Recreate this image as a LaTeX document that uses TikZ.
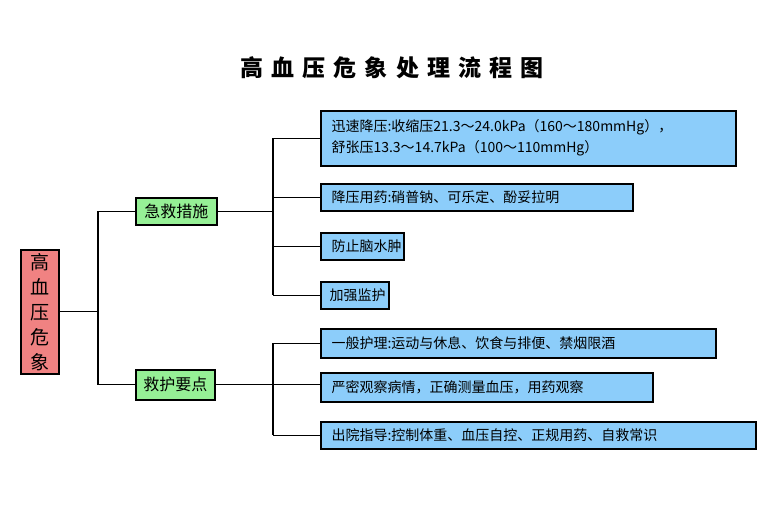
\documentclass[tikz,border=0pt]{standalone}
\usepackage{fontspec}
\setmainfont{Noto Sans CJK SC}
\definecolor{leafc}{RGB}{140,205,250}
\definecolor{brc}{RGB}{150,240,150}
\definecolor{rootc}{RGB}{240,130,130}
\begin{document}
\begin{tikzpicture}[x=1pt,y=-1pt,
  box/.style={draw=black,line width=1.5pt,inner sep=0pt,anchor=north west},
  leaf/.style={box,fill=leafc},
  txt/.style={font=\fontsize{14}{21}\selectfont,anchor=west,align=left},
  ln/.style={line width=1.3pt}]
\useasboundingbox (0,0) rectangle (777,517);
\node[font=\fontsize{23}{24}\selectfont\bfseries\addfontfeature{LetterSpace=35}] (title) at (392,68) {高血压危象处理流程图};
% root
\node[box,fill=rootc,minimum width=38pt,minimum height=124pt] (root) at (20,249) {};
\node[font=\fontsize{19}{25}\selectfont,align=center] at (root.center) {高\\血\\压\\危\\象};
% branches
\node[box,fill=brc,minimum width=81pt,minimum height=27pt] (b1) at (135,197) {};
\node[font=\fontsize{16}{18}\selectfont] at (b1.center) {急救措施};
\node[box,fill=brc,minimum width=79pt,minimum height=30pt] (b2) at (135,369) {};
\node[font=\fontsize{16}{18}\selectfont] at (b2.center) {救护要点};
% leaves
\node[leaf,minimum width=415pt,minimum height=55pt] (l1) at (320,110) {};
\node[txt] at ([xshift=8pt]l1.west) {迅速降压:收缩压21.3～24.0kPa（160～180mmHg），\\舒张压13.3～14.7kPa（100～110mmHg）};
\node[leaf,minimum width=312pt,minimum height=27pt] (l2) at (320,183) {};
\node[txt] at ([xshift=8pt]l2.west) {降压用药:硝普钠、可乐定、酚妥拉明};
\node[leaf,minimum width=83pt,minimum height=27pt] (l3) at (320,232) {};
\node[txt] at ([xshift=8pt]l3.west) {防止脑水肿};
\node[leaf,minimum width=68pt,minimum height=27pt] (l4) at (320,281) {};
\node[txt] at ([xshift=6pt]l4.west) {加强监护};
\node[leaf,minimum width=395pt,minimum height=29pt] (l5) at (320,328) {};
\node[txt] at ([xshift=8pt]l5.west) {一般护理:运动与休息、饮食与排便、禁烟限酒};
\node[leaf,minimum width=332pt,minimum height=29pt] (l6) at (320,372) {};
\node[txt] at ([xshift=8pt]l6.west) {严密观察病情，正确测量血压，用药观察};
\node[leaf,minimum width=435pt,minimum height=27pt] (l7) at (320,421) {};
\node[txt] at ([xshift=8pt]l7.west) {出院指导:控制体重、血压自控、正规用药、自救常识};
% connectors
\coordinate (r) at (98,0);
\draw[ln] (root.east) -- (root.east -| r);
\draw[ln] (b1.west) -| (r |- root.east) |- (b2.west);
\coordinate (s) at (273,0);
\draw[ln] (b1.east) -- (b1.east -| s);
\draw[ln] (l1.west -| s) -- (l4.west -| s);
\foreach \n in {l1,l2,l3,l4} \draw[ln] (\n.west -| s) -- (\n.west);
\draw[ln] (b2.east) -- (b2.east -| l6.west);
\draw[ln] (l5.west -| s) -- (l7.west -| s);
\foreach \n in {l5,l7} \draw[ln] (\n.west -| s) -- (\n.west);
\end{tikzpicture}
\end{document}
